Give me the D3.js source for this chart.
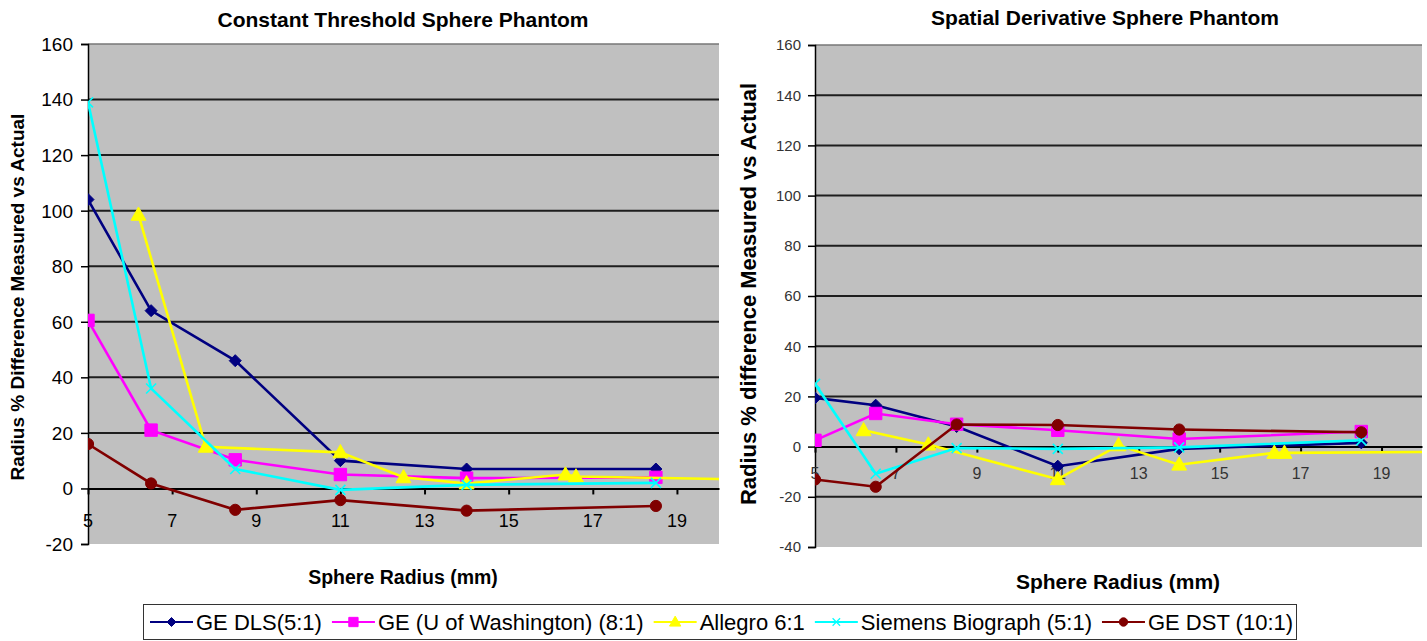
<!DOCTYPE html>
<html>
<head>
<meta charset="utf-8">
<script src="https://cdn.jsdelivr.net/npm/d3@7"></script>
<style>
  body { margin: 0; background: #fff; }
  svg { display: block; font-family: "Liberation Sans", Arial, sans-serif; }
</style>
</head>
<body>
<div id="chart"></div>
<script>
// series names + marker types
const seriesNames = ["GE DLS(5:1)", "GE (U of Washington) (8:1)", "Allegro 6:1", "Siemens Biograph (5:1)", "GE DST (10:1)"];
const seriesMarkers = ["diamond", "square", "triangle", "x", "circle"];
const seriesColors = ["#000080", "#ff00ff", "#ffff00", "#00ffff", "#800000"];

// Constant Threshold Sphere Phantom  [radius mm, % difference]
const ctDLS = [[5, 104], [6.5, 64], [8.5, 46], [11, 10], [14, 7], [18.5, 7]];
const ctUW = [[5, 60.5], [6.5, 21], [8.5, 10.3], [11, 5], [14, 3.7], [18.5, 4]];
const ctAllegro = [[6.2, 98.5], [7.8, 15], [11, 13], [12.5, 4], [14, 1.8], [16.35, 5], [16.6, 4.3], [21.5, 3]];
const ctSiemens = [[5, 139], [6.5, 36], [8.5, 7], [11, -0.5], [14, 1.3], [18.5, 2]];
const ctDST = [[5, 16], [6.5, 1.8], [8.5, -7.7], [11, -4.2], [14, -8], [18.5, -6.3]];

// Spatial Derivative Sphere Phantom
const sdDLS = [[5, 19.4], [6.5, 16.5], [8.5, 8], [11, -7.8], [14, -0.9], [18.5, 1.5]];
const sdUW = [[5, 2.5], [6.5, 13.2], [8.5, 8.9], [11, 6.5], [14, 3], [18.5, 6]];
const sdAllegro = [[6.2, 6.5], [7.8, 0.8], [11, -13], [12.5, 0.5], [14, -7.2], [16.35, -2.5], [16.6, -2.5], [21.5, -2]];
const sdSiemens = [[5, 25], [6.5, -10.8], [8.5, -0.6], [11, -0.9], [14, -0.3], [18.5, 2.5]];
const sdDST = [[5, -13.1], [6.5, -16], [8.5, 8.8], [11, 8.6], [14, 6.8], [18.5, 5.7]];

// axis ticks
const xTicks = [5, 7, 9, 11, 13, 15, 17, 19];
const ctYTicks = [-20, 0, 20, 40, 60, 80, 100, 120, 140, 160];
const sdYTicks = [-40, -20, 0, 20, 40, 60, 80, 100, 120, 140, 160];

const width = 1427, height = 641;
const svg = d3.select('#chart').append('svg')
  .attr('width', width)
  .attr('height', height);

function markerPath(type, r) {
  if (type === 'diamond') return `M0,${-r}L${r},0L0,${r}L${-r},0Z`;
  if (type === 'square') return `M${-r},${-r}H${r}V${r}H${-r}Z`;
  if (type === 'triangle') return `M0,${-r * 1.15}L${r * 1.1},${r * 0.8}L${-r * 1.1},${r * 0.8}Z`;
  if (type === 'x') return `M${-r},${-r}L${r},${r}M${-r},${r}L${r},${-r}`;
  return d3.arc()({innerRadius: 0, outerRadius: r, startAngle: 0, endAngle: 2 * Math.PI});
}
const markerSize = {diamond: 6, square: 6.2, triangle: 6.8, x: 5, circle: 5.6};

function drawPanel(opt) {
  const {id, x0, x1, y0, y1, yTicks, series, title, titleX, titleY, titleSize,
         yTitle, yTitleX, yTitleY, yTitleSize, xTitle, xTitleX, xTitleY, xTitleSize,
         yLabelSize, yLabelX, yLabelColor, xLabelSize, xLabelY, xLabelColor} = opt;

  const x = d3.scaleLinear().domain([5, 20]).range([x0, x1]);
  const y = d3.scaleLinear().domain(d3.extent(yTicks)).range([y1, y0]);

  const g = svg.append('g');

  g.append('clipPath').attr('id', id)
    .append('rect')
      .attr('x', x0).attr('y', y0)
      .attr('width', x1 - x0).attr('height', y1 - y0);

  g.append('rect')
    .attr('x', x0).attr('y', y0)
    .attr('width', x1 - x0).attr('height', y1 - y0)
    .attr('fill', '#c0c0c0');

  // gridlines
  g.selectAll('line.grid')
    .data(yTicks.filter(d => d !== 0 && d !== yTicks[0]))
    .join('line')
      .attr('class', 'grid')
      .attr('x1', x0).attr('x2', x1)
      .attr('y1', d => y(d)).attr('y2', d => y(d))
      .attr('stroke', d => d === yTicks[yTicks.length - 1] ? '#777' : '#1e1e1e')
      .attr('stroke-width', d => d === yTicks[yTicks.length - 1] ? 1.5 : 2);

  // y axis
  const yAxis = d3.axisLeft(y).tickValues(yTicks).tickSize(7).tickFormat('');
  g.append('g')
    .attr('transform', `translate(${x0},0)`)
    .call(yAxis)
    .call(a => a.selectAll('line, path').attr('stroke', '#000').attr('stroke-width', 1.5));

  g.selectAll('text.ylab')
    .data(yTicks)
    .join('text')
      .attr('class', 'ylab')
      .attr('x', yLabelX)
      .attr('y', d => y(d))
      .attr('dy', '0.36em')
      .attr('text-anchor', 'end')
      .attr('font-size', yLabelSize)
      .attr('fill', yLabelColor)
      .text(d => d);

  // x axis at zero
  const xAxis = d3.axisBottom(x).tickValues(xTicks).tickSize(6).tickSizeOuter(0).tickFormat('');
  g.append('g')
    .attr('transform', `translate(0,${y(0)})`)
    .call(xAxis)
    .call(a => a.selectAll('line, path').attr('stroke', '#000').attr('stroke-width', 2));

  g.selectAll('text.xlab')
    .data(xTicks)
    .join('text')
      .attr('class', 'xlab')
      .attr('x', d => x(d))
      .attr('y', xLabelY)
      .attr('text-anchor', 'middle')
      .attr('font-size', xLabelSize)
      .attr('fill', xLabelColor)
      .text(d => d);

  // series
  const plot = g.append('g').attr('clip-path', `url(#${id})`);
  const line = d3.line().x(d => x(d[0])).y(d => y(d[1]));
  series.forEach((s, i) => {
    plot.append('path')
      .datum(s)
      .attr('d', line)
      .attr('fill', 'none')
      .attr('stroke', seriesColors[i])
      .attr('stroke-width', 2.6);
    const type = seriesMarkers[i];
    plot.selectAll(`path.m${i}`)
      .data(s)
      .join('path')
        .attr('class', `m${i}`)
        .attr('transform', d => `translate(${x(d[0])},${y(d[1])})`)
        .attr('d', markerPath(type, markerSize[type]))
        .attr('fill', type === 'x' ? 'none' : seriesColors[i])
        .attr('stroke', seriesColors[i])
        .attr('stroke-width', type === 'x' ? 1.6 : 1);
  });

  // titles
  g.append('text')
    .attr('x', titleX).attr('y', titleY)
    .attr('text-anchor', 'middle')
    .attr('font-weight', 'bold')
    .attr('font-size', titleSize)
    .text(title);

  g.append('text')
    .attr('transform', `translate(${yTitleX},${yTitleY}) rotate(-90)`)
    .attr('text-anchor', 'middle')
    .attr('font-weight', 'bold')
    .attr('font-size', yTitleSize)
    .text(yTitle);

  g.append('text')
    .attr('x', xTitleX).attr('y', xTitleY)
    .attr('text-anchor', 'middle')
    .attr('font-weight', 'bold')
    .attr('font-size', xTitleSize)
    .text(xTitle);
}

drawPanel({
  id: 'clipCT', x0: 88, x1: 719, y0: 44, y1: 544, yTicks: ctYTicks,
  series: [ctDLS, ctUW, ctAllegro, ctSiemens, ctDST],
  title: 'Constant Threshold Sphere Phantom', titleX: 403, titleY: 27, titleSize: 21,
  yTitle: 'Radius % Difference Measured vs Actual', yTitleX: 24, yTitleY: 297, yTitleSize: 19,
  xTitle: 'Sphere Radius (mm)', xTitleX: 403, xTitleY: 584, xTitleSize: 19.5,
  yLabelSize: 19, yLabelX: 73, yLabelColor: '#000',
  xLabelSize: 18, xLabelY: 527, xLabelColor: '#000'
});

drawPanel({
  id: 'clipSD', x0: 815, x1: 1422, y0: 45, y1: 547, yTicks: sdYTicks,
  series: [sdDLS, sdUW, sdAllegro, sdSiemens, sdDST],
  title: 'Spatial Derivative Sphere Phantom', titleX: 1105, titleY: 25, titleSize: 21,
  yTitle: 'Radius % difference Measured vs Actual', yTitleX: 756, yTitleY: 294, yTitleSize: 22,
  xTitle: 'Sphere Radius (mm)', xTitleX: 1118, xTitleY: 589, xTitleSize: 21,
  yLabelSize: 15, yLabelX: 801, yLabelColor: '#333',
  xLabelSize: 16, xLabelY: 479, xLabelColor: '#333'
});

// legend
const legend = svg.append('g');
legend.append('rect')
  .attr('x', 143.5).attr('y', 604.5)
  .attr('width', 1153).attr('height', 35)
  .attr('fill', '#fff')
  .attr('stroke', '#333');

let lx = 150;
seriesNames.forEach((name, i) => {
  const item = legend.append('g').attr('transform', `translate(${lx},622)`);
  item.append('line')
    .attr('x1', 0).attr('x2', 43)
    .attr('stroke', seriesColors[i]).attr('stroke-width', 2.2);
  const type = seriesMarkers[i];
  item.append('path')
    .attr('transform', 'translate(21.5,0)')
    .attr('d', markerPath(type, markerSize[type] * 0.75))
    .attr('fill', type === 'x' ? 'none' : seriesColors[i])
    .attr('stroke', seriesColors[i])
    .attr('stroke-width', type === 'x' ? 1.2 : 1);
  const t = item.append('text')
    .attr('x', 46).attr('y', 8)
    .attr('font-size', 22)
    .attr('fill', '#000')
    .text(name);
  lx += 46 + t.node().getComputedTextLength() + 10;
});
</script>
</body>
</html>
